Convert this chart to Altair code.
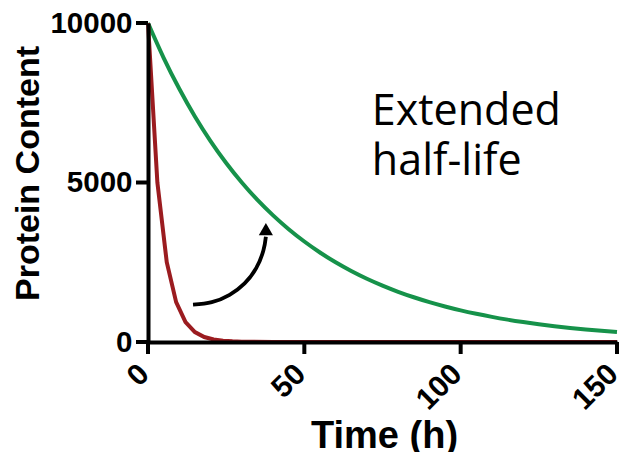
import altair as alt
import pandas as pd

# Short half-life protein (red)
red_t = [0, 3, 6, 9, 12, 15, 18, 21, 24, 27, 30, 40, 60, 90, 120, 150]
red_v = [10000, 5000, 2500, 1250, 625, 312, 156, 78, 39, 20, 10, 3, 0, 0, 0, 0]

# Extended half-life protein (green)
green_t = [0, 5, 10, 15, 20, 25, 30, 35, 40, 45, 50, 55, 60, 65, 70, 75,
           80, 85, 90, 95, 100, 105, 110, 115, 120, 125, 130, 135, 140, 145, 150]
green_v = [10000, 8909, 7937, 7071, 6300, 5612, 5000, 4454, 3969, 3536, 3150,
           2806, 2500, 2227, 1984, 1768, 1575, 1403, 1250, 1114, 992, 884, 787,
           701, 625, 557, 496, 442, 394, 351, 312]

# Curved annotation arrow (data coordinates)
arrow_t = [14.4, 20.4, 26.1, 30.9, 34.6, 36.9, 37.7]
arrow_v = [1170, 1250, 1480, 1840, 2315, 2865, 3300]
head_t = [37.7]
head_v = [3540]

label_lines = ["Extended", "half-life"]
label_t = [71.6, 71.6]
label_v = [6810, 5245]

x_ticks = [0, 50, 100, 150]
y_ticks = [0, 5000, 10000]

red_df = pd.DataFrame({"t": red_t, "v": red_v})
green_df = pd.DataFrame({"t": green_t, "v": green_v})
arrow_df = pd.DataFrame({"t": arrow_t, "v": arrow_v, "o": list(range(len(arrow_t)))})
head_df = pd.DataFrame({"t": head_t, "v": head_v})
label_df = pd.DataFrame({"t": label_t, "v": label_v, "txt": label_lines})
xt_df = pd.DataFrame({"t": x_ticks})
yt_df = pd.DataFrame({"v": y_ticks})

W, H = 469, 319
TICK = 12

xscale = alt.Scale(domain=[0, 150], nice=False, zero=False)
yscale = alt.Scale(domain=[0, 10000], nice=False)

x_axis = alt.Axis(values=x_ticks, title="Time (h)", format="d",
                  ticks=False, zindex=1,
                  labelAngle=-45, labelAlign="right", labelBaseline="middle",
                  labelFontSize=30, labelPadding=TICK + 15, labelOffset=-4,
                  titleFontSize=38, titleX=236, titleY=105,
                  titleBaseline="alphabetic", titleAlign="center")
y_axis = alt.Axis(values=y_ticks, title="Protein Content", format="d",
                  ticks=False, zindex=1,
                  labelFontSize=29.5, labelPadding=TICK + 4,
                  titleFontSize=34, titleX=-120, titleY=150, titleAngle=-90,
                  titleBaseline="middle", titleAlign="center")

base_x = alt.X("t:Q", scale=xscale, axis=x_axis)
base_y = alt.Y("v:Q", scale=yscale, axis=y_axis)

green = alt.Chart(green_df).mark_line(color="#16924a", strokeWidth=4, interpolate="monotone",
                                      clip=False).encode(x=base_x, y=base_y)
red = alt.Chart(red_df).mark_line(color="#9b1c20", strokeWidth=4, clip=False).encode(
    x="t:Q", y="v:Q")
arrow = alt.Chart(arrow_df).mark_line(color="black", strokeWidth=3.8, interpolate="natural").encode(
    x="t:Q", y="v:Q", order="o:Q")
head = alt.Chart(head_df).mark_point(shape="triangle-up", filled=True, color="black",
                                     size=200, opacity=1).encode(x="t:Q", y="v:Q")
text = alt.Chart(label_df).mark_text(font="Open Sans", fontSize=43, align="left",
                                     baseline="alphabetic", color="black").encode(
    x="t:Q", y="v:Q", text="txt:N")
xticks = alt.Chart(xt_df).mark_rule(color="black", strokeWidth=4, clip=False).encode(
    x="t:Q", y=alt.value(H), y2=alt.value(H + TICK))
yticks = alt.Chart(yt_df).mark_rule(color="black", strokeWidth=4, clip=False).encode(
    y="v:Q", x=alt.value(0), x2=alt.value(-TICK))

chart = alt.layer(green, red, arrow, head, text, xticks, yticks).properties(
    width=W, height=H,
    autosize=alt.AutoSizeParams(type="none"),
    padding={"left": 140, "top": 15, "right": 6, "bottom": 110},
).configure_view(stroke=None).configure_axis(
    domainColor="black", domainWidth=4,
    labelColor="black", labelFont="Liberation Sans", labelFontWeight="bold",
    titleColor="black", titleFont="Liberation Sans", titleFontWeight="bold",
    grid=False,
)

chart.save("out.html", embed_options={"renderer": "svg", "actions": False})
